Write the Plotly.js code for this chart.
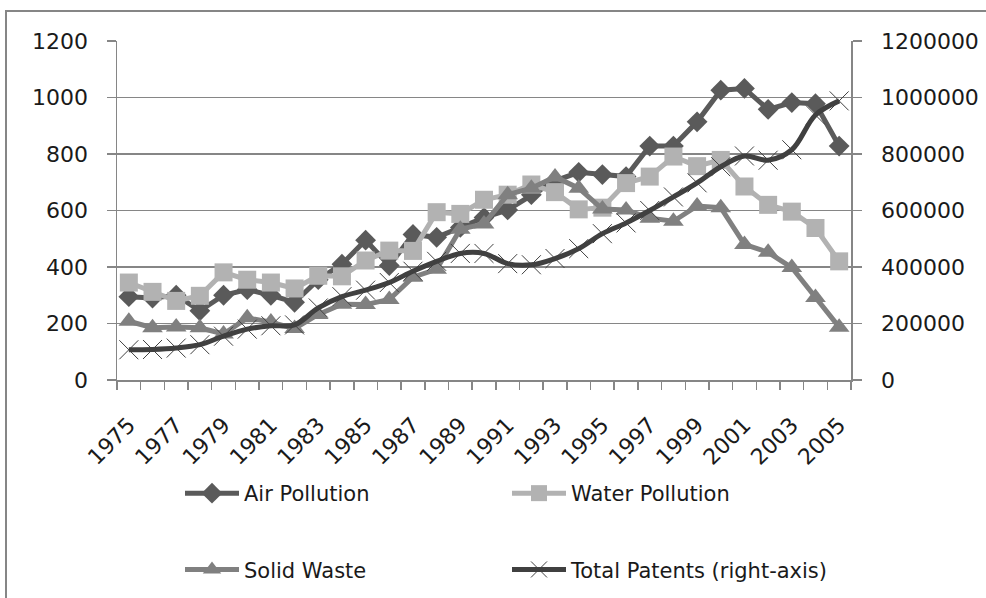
<!DOCTYPE html>
<html>
<head>
<meta charset="utf-8">
<script src="https://cdn.plot.ly/plotly-3.0.1.min.js"></script>
<style>html,body{margin:0;padding:0;background:#fff;}#chart{width:986px;height:598px;}</style>
</head>
<body>
<div id="chart"></div>
<script>
const years = [1975,1976,1977,1978,1979,1980,1981,1982,1983,1984,1985,1986,1987,1988,1989,1990,1991,1992,1993,1994,1995,1996,1997,1998,1999,2000,2001,2002,2003,2004,2005];
const labelYears = [1975,1977,1979,1981,1983,1985,1987,1989,1991,1993,1995,1997,1999,2001,2003,2005];
const airPollution = [295,290,300,245,300,320,300,275,355,410,495,405,515,505,540,575,602,656,705,735,727,720,828,828,914,1026,1032,958,982,978,828];
const waterPollution = [345,312,280,298,381,355,345,324,369,367,423,458,457,594,588,638,656,692,665,604,610,697,720,791,757,779,685,620,596,538,420];
const solidWaste = [208,185,188,185,163,220,205,182,232,268,267,285,364,392,534,552,656,679,719,679,605,602,573,562,616,610,480,452,398,292,187];
const totalPatents = [107000,108000,113000,125000,155000,180000,192000,195000,255000,295000,318000,345000,385000,420000,448000,448000,412000,408000,430000,465000,518000,556000,600000,648000,698000,755000,793000,778000,815000,938000,988000];
const leftTicks = [0,200,400,600,800,1000,1200];
const rightTicks = [0,200000,400000,600000,800000,1000000,1200000];

const GRID = '#868686';
const FONT = 'DejaVu Sans';

const traces = [
  {x: years, y: airPollution, name: 'Air Pollution', type: 'scatter', mode: 'lines+markers',
   line: {color: '#5a5a5a', width: 5}, marker: {symbol: 'diamond', size: 16, color: '#5a5a5a'},
   legend: 'legend', legendgroup: 'a'},
  {x: years, y: waterPollution, name: 'Water Pollution', type: 'scatter', mode: 'lines+markers',
   line: {color: '#b2b2b2', width: 5}, marker: {symbol: 'square', size: 18, color: '#b2b2b2'},
   legend: 'legend2', legendgroup: 'b'},
  {x: years, y: solidWaste, name: 'Solid Waste', type: 'scatter', mode: 'lines+markers',
   line: {color: '#808080', width: 5}, marker: {symbol: 'triangle-up', size: 18, color: '#808080'},
   legend: 'legend', legendgroup: 'c'},
  {x: years, y: totalPatents, name: 'Total Patents (right-axis)', type: 'scatter', mode: 'lines+markers',
   yaxis: 'y2', line: {color: '#404040', width: 5, shape: 'spline', smoothing: 1},
   marker: {symbol: 'x-thin-open', size: 19, color: '#404040', line: {width: 1, color: '#404040'}},
   legend: 'legend2', legendgroup: 'd'}
];

const W = 734, H = 339, L = 117, T = 41;
function px(x){ return (x - L) / W; }
function py(y){ return (T + H - y) / H; }

const layout = {
  width: 986, height: 598,
  margin: {l: 117, r: 135, t: 41, b: 218, autoexpand: false},
  paper_bgcolor: '#ffffff', plot_bgcolor: '#ffffff',
  font: {family: FONT, size: 22, color: '#1a1a1a'},
  showlegend: true,
  xaxis: {
    type: 'linear', range: [1974.5, 2005.5], automargin: false,
    tickmode: 'array', tickvals: labelYears, ticktext: labelYears.map(String),
    tickangle: -45, ticks: '', showgrid: false, zeroline: false,
    showline: true, linecolor: GRID, linewidth: 1.5, ticklabelstandoff: 22,
    tickfont: {family: FONT, size: 22, color: '#1a1a1a'},
    minor: {tickmode: 'linear', tick0: 1974.5, dtick: 1, ticks: 'outside', ticklen: 8, tickcolor: GRID, tickwidth: 1.5, showgrid: false}
  },
  yaxis: {
    range: [0, 1200], automargin: false, tickmode: 'array', tickvals: leftTicks, ticktext: leftTicks.map(String),
    showgrid: true, gridcolor: GRID, gridwidth: 1.5, zeroline: false,
    showline: true, linecolor: GRID, linewidth: 1.5,
    ticks: 'outside', ticklen: 9, tickcolor: GRID, tickwidth: 1.5, ticklabelstandoff: 14,
    tickfont: {family: FONT, size: 22, color: '#1a1a1a'}
  },
  yaxis2: {
    overlaying: 'y', side: 'right', range: [0, 1200000], automargin: false,
    tickmode: 'array', tickvals: rightTicks, ticktext: rightTicks.map(String),
    showgrid: false, zeroline: false, showline: true, linecolor: GRID, linewidth: 1.5,
    ticks: 'outside', ticklen: 9, tickcolor: GRID, tickwidth: 1.5, ticklabelstandoff: 15,
    tickfont: {family: FONT, size: 22, color: '#1a1a1a'}
  },
  legend: {
    orientation: 'v', x: px(180), y: py(473), xanchor: 'left', yanchor: 'top',
    font: {family: FONT, size: 21, color: '#1a1a1a'}, tracegroupgap: 46,
    bgcolor: 'rgba(0,0,0,0)', itemwidth: 54
  },
  legend2: {
    orientation: 'v', x: px(507), y: py(473), xanchor: 'left', yanchor: 'top',
    font: {family: FONT, size: 21, color: '#1a1a1a'}, tracegroupgap: 46,
    bgcolor: 'rgba(0,0,0,0)', itemwidth: 54
  },
  shapes: [
    {type: 'rect', xref: 'paper', yref: 'paper', x0: px(6), x1: px(1000), y0: py(620), y1: py(11),
     line: {color: GRID, width: 2}, fillcolor: 'rgba(0,0,0,0)', layer: 'below'}
  ]
};

Plotly.newPlot('chart', traces, layout, {displayModeBar: false, staticPlot: true});
</script>
</body>
</html>
